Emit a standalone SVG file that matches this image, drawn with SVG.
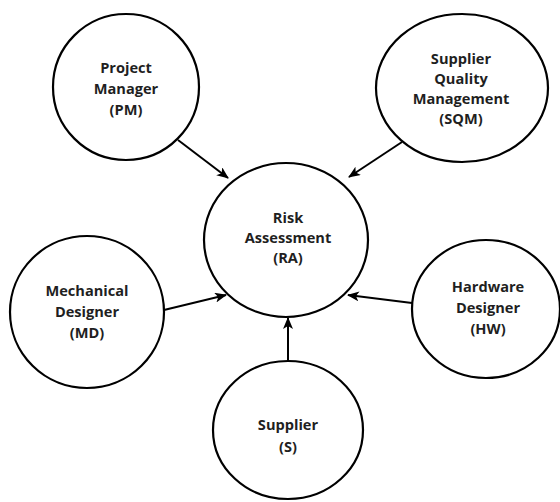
<svg xmlns="http://www.w3.org/2000/svg" width="560" height="502" viewBox="0 0 560 502">
  <style>
    .node { fill: #ffffff; stroke: #000000; stroke-width: 2.2; }
    .label { font-family: "Open Sans", "Liberation Sans", sans-serif; font-weight: bold; font-size: 14.6px; fill: #1f1f1f; text-anchor: middle; }
    .edge { stroke: #000000; stroke-width: 2; fill: none; marker-end: url(#arrow); }
  </style>
  <defs>
    <marker id="arrow" viewBox="0 0 12 10" refX="11" refY="5" markerWidth="12" markerHeight="10" markerUnits="userSpaceOnUse" orient="auto">
      <path d="M0,0 L12,5 L0,10 L3,5 Z" fill="#000000"/>
    </marker>
  </defs>
  <rect width="560" height="502" fill="#ffffff"/>

  <!-- arrows pointing into the central node -->
  <g id="connectors">
    <line class="edge" x1="178" y1="140" x2="228" y2="178"/>
    <line class="edge" x1="402" y1="142" x2="349" y2="177"/>
    <line class="edge" x1="164" y1="310" x2="226" y2="295"/>
    <line class="edge" x1="412" y1="303" x2="348" y2="295"/>
    <line class="edge" x1="288" y1="361" x2="288" y2="318"/>
  </g>

  <g id="pm">
    <ellipse class="node" cx="126" cy="87" rx="73" ry="73"/>
    <text class="label" x="126" y="73">Project</text>
    <text class="label" x="126" y="94">Manager</text>
    <text class="label" x="126" y="115">(PM)</text>
  </g>

  <g id="sqm">
    <ellipse class="node" cx="462" cy="88" rx="86" ry="74"/>
    <text class="label" x="461" y="64">Supplier</text>
    <text class="label" x="461" y="84">Quality</text>
    <text class="label" x="461" y="104">Management</text>
    <text class="label" x="461" y="124">(SQM)</text>
  </g>

  <g id="ra">
    <ellipse class="node" cx="286" cy="240" rx="82" ry="77"/>
    <text class="label" x="288" y="223">Risk</text>
    <text class="label" x="288" y="243">Assessment</text>
    <text class="label" x="288" y="263">(RA)</text>
  </g>

  <g id="md">
    <ellipse class="node" cx="87" cy="312" rx="77" ry="76"/>
    <text class="label" x="87" y="296">Mechanical</text>
    <text class="label" x="87" y="317">Designer</text>
    <text class="label" x="87" y="338">(MD)</text>
  </g>

  <g id="hw">
    <ellipse class="node" cx="486" cy="309" rx="74" ry="69"/>
    <text class="label" x="488" y="292">Hardware</text>
    <text class="label" x="488" y="313">Designer</text>
    <text class="label" x="488" y="334">(HW)</text>
  </g>

  <g id="s">
    <ellipse class="node" cx="288" cy="430" rx="75" ry="69"/>
    <text class="label" x="288" y="430">Supplier</text>
    <text class="label" x="288" y="452">(S)</text>
  </g>
</svg>
